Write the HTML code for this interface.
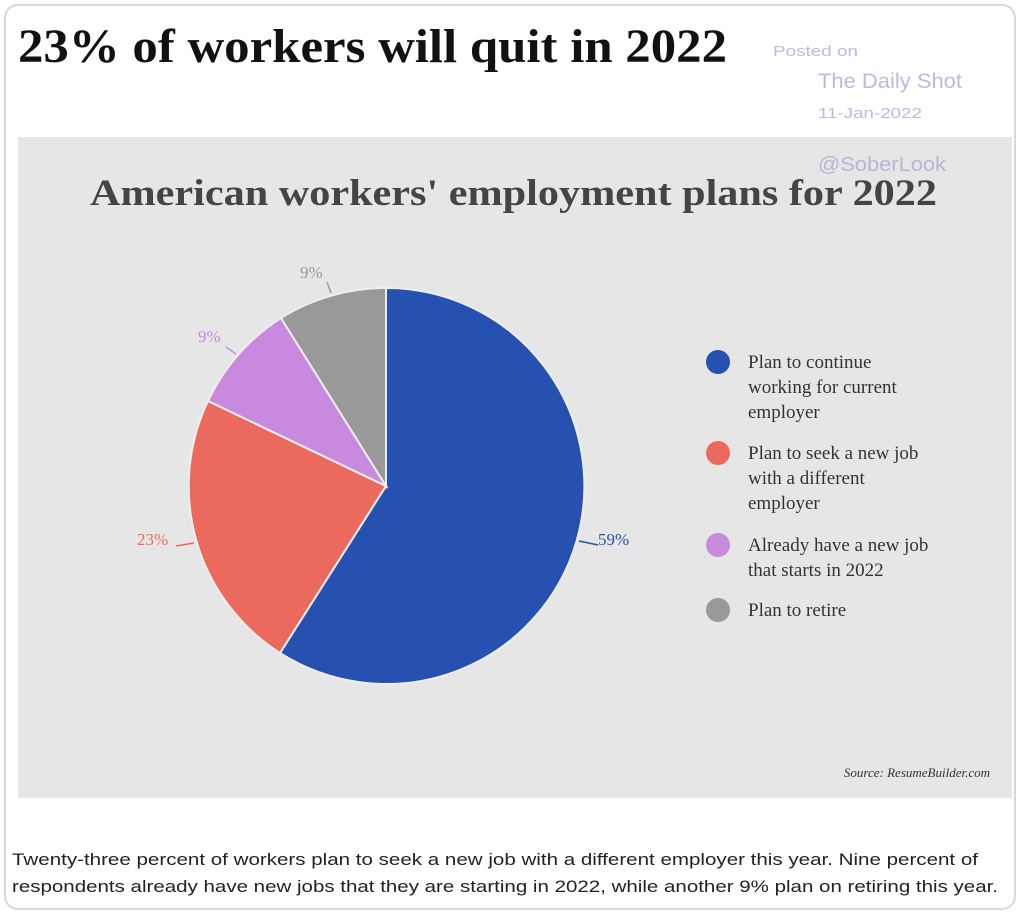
<!DOCTYPE html>
<html><head><meta charset="utf-8">
<style>
body{margin:0;background:#fff;width:1024px;height:916px;overflow:hidden;position:relative;font-family:"Liberation Sans",sans-serif}
.frame{position:absolute;left:4px;top:4px;width:1012px;height:906px;border:2px solid #d8d8d8;border-radius:14px;box-sizing:border-box}
.panel{position:absolute;left:18px;top:137px;width:994px;height:661px;background:#e6e6e6}
</style></head><body>
<div class="frame"></div>
<div class="panel"></div>
<svg style="position:absolute;left:0;top:0" width="1024" height="916">
<text x="18" y="62" font-family="Liberation Serif,serif" font-weight="bold" font-size="48" fill="#111" textLength="709" lengthAdjust="spacingAndGlyphs">23% of workers will quit in 2022</text>
<g font-family="Liberation Sans,sans-serif" fill="#b9bce0">
<text x="773" y="56" font-size="15" textLength="85" lengthAdjust="spacingAndGlyphs">Posted on</text>
<text x="818" y="88" font-size="21" textLength="144" lengthAdjust="spacingAndGlyphs">The Daily Shot</text>
<text x="818" y="118" font-size="15" textLength="104" lengthAdjust="spacingAndGlyphs">11-Jan-2022</text>
<text x="818" y="171" font-size="20" fill="#b4b7d8" textLength="128" lengthAdjust="spacingAndGlyphs">@SoberLook</text>
</g>
<text x="90" y="205" font-family="Liberation Serif,serif" font-weight="bold" font-size="37" fill="#444" textLength="847" lengthAdjust="spacingAndGlyphs">American workers' employment plans for 2022</text>
<g stroke="#eee" stroke-width="2">
<path d="M386,486 L386,288 A198,198 0 1 1 280,653 Z" fill="#2651b1"/>
<path d="M386,486 L280,653 A198,198 0 0 1 208,401 Z" fill="#ec695d"/>
<path d="M386,486 L208,401 A198,198 0 0 1 281,318 Z" fill="#c78ade"/>
<path d="M386,486 L281,318 A198,198 0 0 1 386,288 Z" fill="#999"/>
</g>
<g fill="none" stroke-width="1.5">
<path d="M327,282 L331,293" stroke="#999"/>
<path d="M226,347 L236,354" stroke="#c78ade"/>
<path d="M176,546 L194,543" stroke="#ec695d"/>
<path d="M579,541 L598,545" stroke="#2651b1"/>
</g>
<g font-family="Liberation Serif,serif" font-size="17">
<text x="300" y="278" fill="#999">9%</text>
<text x="198" y="342" fill="#c78ade">9%</text>
<text x="137" y="545" fill="#ec695d">23%</text>
<text x="598" y="545" fill="#2651b1">59%</text>
</g>
<g font-family="Liberation Serif,serif" font-size="19" fill="#333">
<circle cx="718" cy="362" r="12" fill="#2651b1"/>
<text x="748" y="368">Plan to continue</text><text x="748" y="393">working for current</text><text x="748" y="418">employer</text>
<circle cx="718" cy="453" r="12" fill="#ec695d"/>
<text x="748" y="459">Plan to seek a new job</text><text x="748" y="484">with a different</text><text x="748" y="509">employer</text>
<circle cx="718" cy="545" r="12" fill="#c78ade"/>
<text x="748" y="551">Already have a new job</text><text x="748" y="576">that starts in 2022</text>
<circle cx="718" cy="610" r="12" fill="#999"/>
<text x="748" y="616">Plan to retire</text>
</g>
<text x="990" y="777" text-anchor="end" font-family="Liberation Serif,serif" font-style="italic" font-size="13" fill="#333">Source: ResumeBuilder.com</text>
<g font-family="Liberation Sans,sans-serif" font-size="17" fill="#222">
<text x="12" y="865" textLength="966" lengthAdjust="spacingAndGlyphs">Twenty-three percent of workers plan to seek a new job with a different employer this year. Nine percent of</text>
<text x="12" y="892" textLength="986" lengthAdjust="spacingAndGlyphs">respondents already have new jobs that they are starting in 2022, while another 9% plan on retiring this year.</text>
</g>
</svg>
</body></html>
